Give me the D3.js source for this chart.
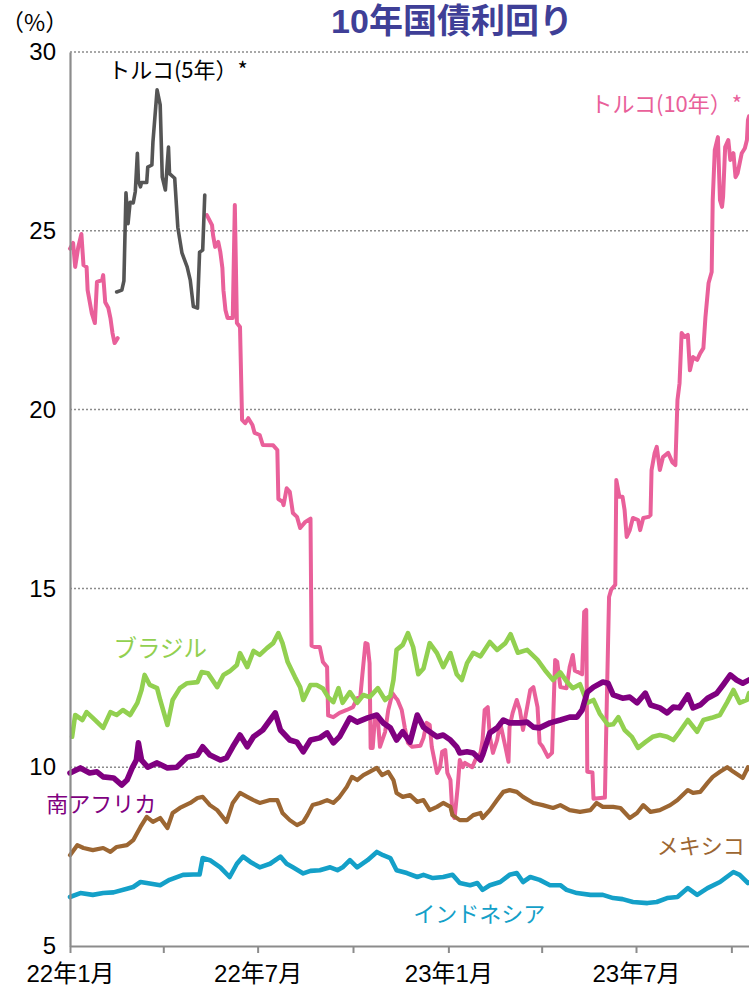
<!DOCTYPE html>
<html>
<head>
<meta charset="utf-8">
<script src="https://cdn.jsdelivr.net/npm/d3@7"></script>
<style>
  html, body { margin: 0; padding: 0; background: #fff; }
  svg { display: block; }
</style>
</head>
<body>
<svg id="chart" width="749" height="987"></svg>
<script>
// ---- data: 10-year government bond yields (%), Turkey also 5-year ----
const yTicks = [5, 10, 15, 20, 25, 30];
const gridValues = [10, 15, 20, 25, 30];
const xTickDates = ["2022-01-01", "2022-04-01", "2022-07-01", "2022-10-01",
                    "2023-01-01", "2023-04-01", "2023-07-01", "2023-10-01"];
const xTickLabels = ["22年1月", "", "22年7月", "", "23年1月", "", "23年7月", ""];
const dateRange = ["2022-01-01", "2023-10-18"];

const turkey10y = [
  ["2022-01-01",24.5],["2022-01-04",24.66],["2022-01-06",23.99],["2022-01-09",24.55],["2022-01-12",24.91],
  ["2022-01-14",24.04],["2022-01-17",23.99],["2022-01-18",23.34],["2022-01-22",22.7],["2022-01-25",22.42],
  ["2022-01-27",23.57],["2022-02-01",23.62],["2022-02-02",23.76],["2022-02-04",23.0],["2022-02-07",22.84],
  ["2022-02-09",22.56],["2022-02-11",22.14],["2022-02-13",21.86],["2022-02-16",22.0],
  ["2022-02-17",null],
  ["2022-05-13",25.44],["2022-05-18",25.16],["2022-05-19",24.88],["2022-05-21",24.55],["2022-05-24",24.69],
  ["2022-05-26",24.41],["2022-05-28",23.96],["2022-05-29",23.34],["2022-05-31",22.78],["2022-06-02",22.56],
  ["2022-06-07",22.56],["2022-06-09",25.72],["2022-06-11",22.42],["2022-06-14",22.31],["2022-06-16",19.71],
  ["2022-06-19",19.62],["2022-06-22",19.76],["2022-06-26",19.57],["2022-06-28",19.35],["2022-07-03",19.29],
  ["2022-07-06",19.01],["2022-07-16",19.0],["2022-07-20",18.87],["2022-07-21",17.5],["2022-07-25",17.42],
  ["2022-07-26",17.33],["2022-07-29",17.8],["2022-08-01",17.7],["2022-08-04",17.11],["2022-08-08",17.0],
  ["2022-08-11",16.69],["2022-08-16",16.86],["2022-08-21",16.95],["2022-08-22",13.4],["2022-08-25",13.36],
  ["2022-08-30",13.36],["2022-09-02",12.94],["2022-09-06",12.8],["2022-09-07",11.45],["2022-09-12",11.4],
  ["2022-09-18",11.52],["2022-09-25",11.6],["2022-10-01",11.68],["2022-10-05",11.93],["2022-10-08",11.96],
  ["2022-10-10",12.58],["2022-10-13",13.47],["2022-10-15",13.45],["2022-10-17",12.91],["2022-10-18",10.54],
  ["2022-10-20",10.54],["2022-10-22",11.32],["2022-10-25",11.32],["2022-10-27",10.57],["2022-11-01",10.99],
  ["2022-11-04",11.6],["2022-11-08",12.07],["2022-11-11",11.95],["2022-11-13",11.88],["2022-11-17",11.6],
  ["2022-11-20",11.1],["2022-11-23",10.68],["2022-11-27",10.57],["2022-12-05",10.6],["2022-12-08",10.82],
  ["2022-12-11",11.24],["2022-12-14",11.18],["2022-12-16",10.57],["2022-12-21",9.84],["2022-12-24",10.0],
  ["2022-12-26",10.43],["2022-12-29",10.48],["2022-12-31",9.84],["2023-01-03",9.64],["2023-01-05",8.66],
  ["2023-01-07",8.58],["2023-01-10",9.45],["2023-01-12",10.2],["2023-01-15",10.0],["2023-01-17",10.12],
  ["2023-01-24",10.0],["2023-01-27",10.2],["2023-02-01",10.4],["2023-02-03",10.76],["2023-02-05",11.6],
  ["2023-02-08",11.68],["2023-02-10",10.85],["2023-02-13",10.4],["2023-02-17",10.76],["2023-02-20",11.24],
  ["2023-02-25",10.57],["2023-02-28",10.15],["2023-03-01",11.12],["2023-03-04",11.52],["2023-03-08",11.88],
  ["2023-03-11",11.6],["2023-03-14",11.04],["2023-03-21",12.16],["2023-03-24",12.24],["2023-03-28",11.68],
  ["2023-03-30",10.68],["2023-04-02",10.57],["2023-04-07",10.29],["2023-04-11",10.4],["2023-04-14",13.0],
  ["2023-04-16",12.95],["2023-04-19",12.24],["2023-04-25",12.21],["2023-04-28",12.8],["2023-05-01",13.14],
  ["2023-05-03",12.7],["2023-05-06",12.66],["2023-05-10",12.6],["2023-05-12",14.34],["2023-05-14",14.4],
  ["2023-05-15",9.87],["2023-05-20",9.85],["2023-05-21",9.12],["2023-06-01",9.15],["2023-06-03",12.07],
  ["2023-06-05",14.76],["2023-06-07",14.96],["2023-06-11",15.1],["2023-06-12",18.03],["2023-06-15",17.56],
  ["2023-06-18",17.56],["2023-06-20",17.19],["2023-06-22",16.44],["2023-06-25",16.63],["2023-06-28",16.97],
  ["2023-07-03",16.91],["2023-07-05",16.63],["2023-07-08",16.97],["2023-07-13",17.0],["2023-07-15",17.05],
  ["2023-07-16",18.31],["2023-07-19",18.79],["2023-07-21",18.96],["2023-07-24",18.31],["2023-07-27",18.67],
  ["2023-08-01",18.79],["2023-08-05",18.53],["2023-08-08",18.45],["2023-08-10",20.27],["2023-08-12",20.74],
  ["2023-08-14",22.14],["2023-08-17",22.03],["2023-08-20",22.09],["2023-08-22",21.1],["2023-08-25",21.47],
  ["2023-08-29",21.39],["2023-09-01",21.58],["2023-09-04",21.72],["2023-09-06",22.59],["2023-09-09",23.54],
  ["2023-09-12",23.85],["2023-09-13",25.86],["2023-09-15",27.26],["2023-09-18",27.62],["2023-09-20",25.86],
  ["2023-09-22",25.67],["2023-09-23",25.95],["2023-09-25",27.34],["2023-09-28",27.54],["2023-09-30",26.98],
  ["2023-10-03",27.17],["2023-10-05",26.5],["2023-10-07",26.61],["2023-10-11",27.17],["2023-10-14",27.31],
  ["2023-10-16",27.54],["2023-10-17",28.1],["2023-10-18",28.2]
];

const turkey5y = [
  ["2022-02-15",23.29],["2022-02-20",23.34],["2022-02-22",23.6],["2022-02-24",26.06],["2022-02-26",25.2],
  ["2022-02-28",25.8],["2022-03-03",25.78],["2022-03-05",26.1],["2022-03-07",27.17],["2022-03-08",26.4],
  ["2022-03-10",26.23],["2022-03-11",26.35],["2022-03-16",26.35],["2022-03-17",26.78],["2022-03-21",26.84],
  ["2022-03-22",27.48],["2022-03-26",28.94],["2022-03-29",28.52],["2022-03-31",26.5],["2022-04-03",26.14],
  ["2022-04-06",27.34],["2022-04-07",26.6],["2022-04-12",26.47],["2022-04-15",25.1],["2022-04-19",24.38],
  ["2022-04-24",23.99],["2022-04-27",23.62],["2022-04-30",22.88],["2022-05-04",22.84],["2022-05-06",24.4],
  ["2022-05-09",24.46],["2022-05-11",26.0]
];

const brazil = [
  ["2022-01-03",10.85],["2022-01-06",11.46],["2022-01-13",11.32],["2022-01-17",11.54],["2022-01-23",11.38],
  ["2022-02-02",11.1],["2022-02-09",11.54],["2022-02-15",11.46],["2022-02-21",11.6],["2022-02-28",11.46],
  ["2022-03-07",11.8],["2022-03-11",12.16],["2022-03-14",12.58],["2022-03-19",12.3],["2022-03-26",12.21],
  ["2022-03-29",11.88],["2022-04-05",11.18],["2022-04-10",11.88],["2022-04-17",12.21],["2022-04-24",12.35],
  ["2022-05-04",12.38],["2022-05-08",12.66],["2022-05-14",12.63],["2022-05-23",12.24],["2022-05-29",12.58],
  ["2022-06-04",12.68],["2022-06-11",12.86],["2022-06-14",13.19],["2022-06-21",12.8],["2022-06-27",13.25],
  ["2022-07-03",13.14],["2022-07-10",13.33],["2022-07-16",13.47],["2022-07-21",13.75],["2022-07-25",13.47],
  ["2022-07-30",12.94],["2022-08-06",12.52],["2022-08-11",12.24],["2022-08-14",11.88],["2022-08-21",12.3],
  ["2022-08-27",12.3],["2022-09-02",12.2],["2022-09-07",11.96],["2022-09-12",11.82],["2022-09-17",12.21],
  ["2022-09-21",11.8],["2022-09-28",12.1],["2022-10-05",11.8],["2022-10-11",12.02],["2022-10-17",11.96],
  ["2022-10-25",12.21],["2022-11-01",11.88],["2022-11-06",12.0],["2022-11-09",12.44],["2022-11-12",13.28],
  ["2022-11-18",13.42],["2022-11-23",13.75],["2022-11-28",13.36],["2022-12-03",12.6],["2022-12-08",12.76],
  ["2022-12-14",13.47],["2022-12-21",13.19],["2022-12-27",12.8],["2023-01-03",13.19],["2023-01-09",12.6],
  ["2023-01-14",12.44],["2023-01-19",12.91],["2023-01-25",13.2],["2023-02-01",13.1],["2023-02-10",13.5],
  ["2023-02-17",13.28],["2023-02-25",13.47],["2023-03-02",13.72],["2023-03-09",13.2],["2023-03-18",13.28],
  ["2023-03-28",13.0],["2023-04-04",12.72],["2023-04-12",12.44],["2023-04-19",12.65],["2023-04-25",12.4],
  ["2023-05-01",12.21],["2023-05-08",12.32],["2023-05-15",11.8],["2023-05-21",11.88],["2023-05-27",11.5],
  ["2023-06-04",11.18],["2023-06-09",11.2],["2023-06-14",11.4],["2023-06-20",11.04],["2023-06-27",10.85],
  ["2023-07-03",10.54],["2023-07-10",10.7],["2023-07-17",10.85],["2023-07-24",10.9],["2023-07-31",10.85],
  ["2023-08-06",10.76],["2023-08-12",10.99],["2023-08-20",11.32],["2023-08-29",10.99],["2023-09-04",11.32],
  ["2023-09-12",11.38],["2023-09-20",11.46],["2023-09-27",11.82],["2023-10-03",12.16],["2023-10-09",11.8],
  ["2023-10-16",11.88],["2023-10-18",12.07]
];

const southAfrica = [
  ["2022-01-01",9.84],["2022-01-11",9.98],["2022-01-20",9.84],["2022-01-27",9.87],["2022-02-02",9.73],
  ["2022-02-12",9.7],["2022-02-20",9.5],["2022-02-25",9.64],["2022-03-02",9.98],["2022-03-06",10.2],
  ["2022-03-08",10.68],["2022-03-11",10.2],["2022-03-17",10.0],["2022-03-26",10.12],["2022-04-05",9.98],
  ["2022-04-14",10.0],["2022-04-24",10.28],["2022-05-04",10.34],["2022-05-09",10.57],["2022-05-16",10.34],
  ["2022-05-26",10.2],["2022-06-01",10.26],["2022-06-07",10.57],["2022-06-14",10.9],["2022-06-21",10.57],
  ["2022-06-27",10.85],["2022-07-06",11.04],["2022-07-13",11.32],["2022-07-18",11.52],["2022-07-23",11.04],
  ["2022-08-01",10.76],["2022-08-08",10.7],["2022-08-14",10.43],["2022-08-21",10.76],["2022-08-30",10.82],
  ["2022-09-06",10.96],["2022-09-12",10.68],["2022-09-18",10.85],["2022-09-28",11.38],["2022-10-05",11.26],
  ["2022-10-15",11.38],["2022-10-24",11.46],["2022-10-30",11.24],["2022-11-06",11.1],["2022-11-12",10.76],
  ["2022-11-18",10.99],["2022-11-25",10.7],["2022-12-02",11.46],["2022-12-08",11.12],["2022-12-14",10.99],
  ["2022-12-21",10.85],["2022-12-27",10.9],["2023-01-03",10.76],["2023-01-09",10.57],["2023-01-12",10.4],
  ["2023-01-19",10.43],["2023-01-25",10.4],["2023-02-01",10.2],["2023-02-03",10.34],["2023-02-10",10.96],
  ["2023-02-17",11.1],["2023-02-23",11.32],["2023-03-01",11.24],["2023-03-11",11.24],["2023-03-18",11.26],
  ["2023-03-24",11.12],["2023-03-30",11.1],["2023-04-09",11.24],["2023-04-19",11.32],["2023-04-28",11.4],
  ["2023-05-05",11.4],["2023-05-10",11.6],["2023-05-15",12.1],["2023-05-21",12.24],["2023-05-30",12.38],
  ["2023-06-04",12.35],["2023-06-09",12.02],["2023-06-18",11.93],["2023-06-25",11.96],["2023-07-02",11.8],
  ["2023-07-10",12.07],["2023-07-15",11.74],["2023-07-24",11.66],["2023-07-31",11.52],["2023-08-06",11.68],
  ["2023-08-12",11.66],["2023-08-20",12.02],["2023-08-25",11.66],["2023-09-01",11.74],["2023-09-08",11.93],
  ["2023-09-17",12.07],["2023-09-23",12.3],["2023-09-30",12.58],["2023-10-06",12.44],["2023-10-12",12.35],
  ["2023-10-18",12.44]
];

const mexico = [
  ["2022-01-01",7.54],["2022-01-08",7.82],["2022-01-14",7.74],["2022-01-23",7.68],["2022-02-02",7.74],
  ["2022-02-09",7.63],["2022-02-15",7.77],["2022-02-25",7.82],["2022-03-03",7.96],["2022-03-10",8.33],
  ["2022-03-16",8.61],["2022-03-22",8.47],["2022-03-29",8.58],["2022-04-05",8.3],["2022-04-10",8.72],
  ["2022-04-17",8.86],["2022-04-27",9.0],["2022-05-04",9.14],["2022-05-09",9.17],["2022-05-16",8.94],
  ["2022-05-23",8.8],["2022-06-01",8.47],["2022-06-07",9.0],["2022-06-14",9.28],["2022-06-21",9.17],
  ["2022-06-27",9.08],["2022-07-03",9.0],["2022-07-13",9.08],["2022-07-20",9.08],["2022-07-25",8.72],
  ["2022-08-01",8.52],["2022-08-08",8.38],["2022-08-14",8.47],["2022-08-18",8.66],["2022-08-23",8.94],
  ["2022-08-30",9.0],["2022-09-06",9.08],["2022-09-12",9.0],["2022-09-18",9.17],["2022-09-25",9.45],
  ["2022-09-30",9.73],["2022-10-05",9.64],["2022-10-11",9.78],["2022-10-17",9.87],["2022-10-24",9.98],
  ["2022-10-29",9.78],["2022-11-04",9.87],["2022-11-09",9.64],["2022-11-12",9.28],["2022-11-18",9.17],
  ["2022-11-25",9.22],["2022-12-02",9.03],["2022-12-08",9.08],["2022-12-14",8.8],["2022-12-21",8.89],
  ["2022-12-27",9.0],["2023-01-03",8.89],["2023-01-05",8.66],["2023-01-12",8.52],["2023-01-19",8.52],
  ["2023-01-25",8.66],["2023-02-01",8.72],["2023-02-03",8.58],["2023-02-10",8.8],["2023-02-17",9.08],
  ["2023-02-23",9.31],["2023-03-01",9.36],["2023-03-08",9.31],["2023-03-14",9.17],["2023-03-24",9.0],
  ["2023-04-02",8.94],["2023-04-12",8.86],["2023-04-19",8.94],["2023-04-28",8.8],["2023-05-08",8.75],
  ["2023-05-18",8.8],["2023-05-24",9.0],["2023-05-30",8.89],["2023-06-09",8.89],["2023-06-16",8.86],
  ["2023-06-25",8.58],["2023-07-02",8.72],["2023-07-08",8.94],["2023-07-15",8.75],["2023-07-24",8.8],
  ["2023-08-03",8.94],["2023-08-10",9.08],["2023-08-20",9.36],["2023-08-25",9.28],["2023-09-01",9.31],
  ["2023-09-08",9.56],["2023-09-13",9.73],["2023-09-20",9.87],["2023-09-27",10.0],["2023-10-03",9.87],
  ["2023-10-12",9.7],["2023-10-17",10.0],["2023-10-18",9.95]
];

const indonesia = [
  ["2022-01-01",6.37],["2022-01-11",6.48],["2022-01-23",6.43],["2022-02-02",6.48],["2022-02-12",6.5],
  ["2022-02-25",6.6],["2022-03-03",6.65],["2022-03-10",6.79],["2022-03-16",6.76],["2022-03-29",6.7],
  ["2022-04-07",6.85],["2022-04-20",6.99],["2022-04-30",7.0],["2022-05-06",7.0],["2022-05-09",7.46],
  ["2022-05-16",7.4],["2022-05-26",7.2],["2022-06-04",6.93],["2022-06-11",7.3],["2022-06-17",7.5],
  ["2022-06-24",7.35],["2022-07-03",7.2],["2022-07-13",7.3],["2022-07-23",7.5],["2022-07-29",7.3],
  ["2022-08-04",7.2],["2022-08-14",7.03],["2022-08-21",7.1],["2022-08-30",7.12],["2022-09-09",7.2],
  ["2022-09-16",7.12],["2022-09-21",7.2],["2022-09-28",7.4],["2022-10-05",7.2],["2022-10-15",7.4],
  ["2022-10-24",7.63],["2022-10-30",7.54],["2022-11-06",7.46],["2022-11-12",7.12],["2022-11-22",7.04],
  ["2022-12-02",6.93],["2022-12-08",6.99],["2022-12-17",6.9],["2022-12-27",6.93],["2023-01-05",6.99],
  ["2023-01-12",6.76],["2023-01-22",6.7],["2023-01-29",6.76],["2023-02-03",6.57],["2023-02-10",6.7],
  ["2023-02-20",6.79],["2023-03-01",6.99],["2023-03-08",7.04],["2023-03-14",6.79],["2023-03-21",6.93],
  ["2023-03-30",6.85],["2023-04-09",6.7],["2023-04-19",6.7],["2023-04-25",6.57],["2023-05-05",6.48],
  ["2023-05-18",6.43],["2023-05-30",6.43],["2023-06-09",6.34],["2023-06-18",6.31],["2023-06-28",6.23],
  ["2023-07-12",6.2],["2023-07-21",6.23],["2023-07-31",6.34],["2023-08-10",6.37],["2023-08-20",6.62],
  ["2023-08-29",6.43],["2023-09-08",6.62],["2023-09-20",6.79],["2023-10-03",7.07],["2023-10-09",6.99],
  ["2023-10-17",6.76],["2023-10-18",6.78]
];

// series names and where each name is written (date, yield)
const seriesNames = ["トルコ(10年）*", "トルコ(5年）*", "ブラジル", "南アフリカ", "メキシコ", "インドネシア"];
const labelAnchors = [["2023-05-18", 28.32], ["2022-02-07", 29.27], ["2022-02-12", 13.08],
                      ["2021-12-09", 8.75], ["2023-07-21", 7.57], ["2022-11-28", 5.67]];

// ---- drawing ----
const parse = d3.timeParse("%Y-%m-%d");
const W = 749, H = 987;
const margin = { top: 52, right: 0, bottom: 41, left: 70 };

const x = d3.scaleTime()
  .domain(dateRange.map(parse))
  .range([margin.left, W - margin.right]);
const y = d3.scaleLinear()
  .domain([5, 30])
  .range([H - margin.bottom, margin.top]);

const svg = d3.select("#chart");

const styles = [
  { color: "#e9609a", width: 4,   labelColor: "#e9609a", labelSize: 22 },
  { color: "#555555", width: 3.6, labelColor: "#000000", labelSize: 22 },
  { color: "#92d050", width: 4.6, labelColor: "#92d050", labelSize: 23.5 },
  { color: "#800080", width: 5.6, labelColor: "#800080", labelSize: 22 },
  { color: "#9c6632", width: 4.2, labelColor: "#9c6632", labelSize: 22 },
  { color: "#14a0c8", width: 4.6, labelColor: "#14a0c8", labelSize: 22 }
];
const seriesData = [turkey10y, turkey5y, brazil, southAfrica, mexico, indonesia];

// dotted horizontal gridlines
svg.append("g")
  .selectAll("line")
  .data(gridValues)
  .join("line")
  .attr("x1", x.range()[0])
  .attr("x2", x.range()[1])
  .attr("y1", d => y(d))
  .attr("y2", d => y(d))
  .attr("stroke", "#8c8c8c")
  .attr("stroke-width", 1.5)
  .attr("stroke-dasharray", "2,2");

// yield lines
const line = d3.line()
  .defined(d => d[1] != null)
  .x(d => x(parse(d[0])))
  .y(d => y(d[1]));

svg.append("g")
  .selectAll("path")
  .data(seriesData)
  .join("path")
  .attr("d", d => line(d))
  .attr("fill", "none")
  .attr("stroke", (d, i) => styles[i].color)
  .attr("stroke-width", (d, i) => styles[i].width)
  .attr("stroke-linejoin", "round")
  .attr("stroke-linecap", "round");

// axes
const tickFont = "'Liberation Sans', Arial, 'Noto Sans CJK JP', sans-serif";

const xAxis = d3.axisBottom(x)
  .tickValues(xTickDates.map(parse))
  .tickSize(7)
  .tickSizeOuter(0)
  .tickPadding(12)
  .tickFormat((d, i) => xTickLabels[i]);

const gx = svg.append("g")
  .attr("transform", `translate(0,${y.range()[0]})`)
  .call(xAxis);
gx.select(".domain").attr("stroke", "#8c8c8c").attr("stroke-width", 2.2);
gx.selectAll(".tick line").attr("stroke", "#8c8c8c").attr("stroke-width", 2);
gx.selectAll(".tick text")
  .attr("font-family", tickFont)
  .attr("font-size", 24)
  .attr("fill", "#000");

const yAxis = d3.axisLeft(y)
  .tickValues(yTicks)
  .tickSize(0)
  .tickPadding(14);

const gy = svg.append("g")
  .attr("transform", `translate(${x.range()[0]},0)`)
  .call(yAxis);
gy.select(".domain").attr("stroke", "#8c8c8c").attr("stroke-width", 2.2);
gy.selectAll(".tick text")
  .attr("font-family", tickFont)
  .attr("font-size", 24)
  .attr("fill", "#000");

// unit
svg.append("text")
  .attr("x", 1)
  .attr("y", 31)
  .attr("font-family", "'Noto Sans CJK JP', sans-serif")
  .attr("font-size", 23)
  .attr("fill", "#000")
  .text("（%）");

// title
svg.append("text")
  .attr("x", 452)
  .attr("y", 33)
  .attr("text-anchor", "middle")
  .attr("font-family", "'Liberation Sans', 'Noto Sans CJK JP', sans-serif")
  .attr("font-weight", "bold")
  .attr("font-size", 34)
  .attr("fill", "#3f3f97")
  .text("10年国債利回り");

// series names
svg.append("g")
  .selectAll("text")
  .data(seriesNames)
  .join("text")
  .attr("x", (d, i) => x(parse(labelAnchors[i][0])))
  .attr("y", (d, i) => y(labelAnchors[i][1]))
  .attr("font-family", "'Noto Sans CJK JP', sans-serif")
  .attr("font-size", (d, i) => styles[i].labelSize)
  .attr("fill", (d, i) => styles[i].labelColor)
  .text(d => d);
</script>
</body>
</html>
